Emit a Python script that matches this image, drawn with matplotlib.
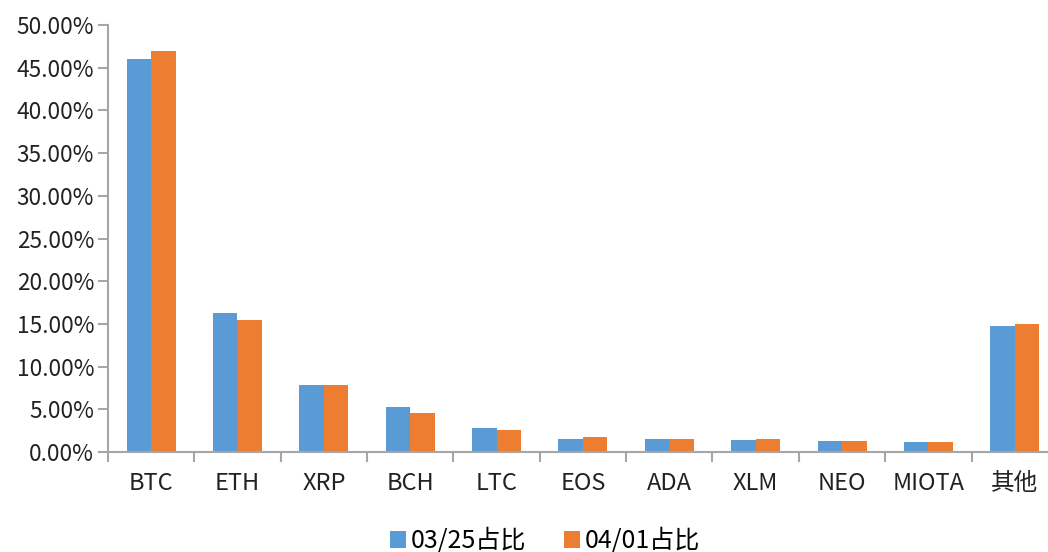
import matplotlib
matplotlib.use('Agg')
import matplotlib.pyplot as plt
import numpy as np
from matplotlib.ticker import FuncFormatter

plt.rcParams['font.family'] = ['Noto Sans CJK SC', 'DejaVu Sans']

coins = ['BTC', 'ETH', 'XRP', 'BCH', 'LTC', 'EOS', 'ADA', 'XLM', 'NEO', 'MIOTA', '其他']
share_0325 = [46.0, 16.24, 7.85, 5.23, 2.77, 1.52, 1.48, 1.37, 1.29, 1.13, 14.75]
share_0401 = [47.0, 15.42, 7.85, 4.57, 2.54, 1.76, 1.56, 1.48, 1.25, 1.17, 14.95]
series_labels = ['03/25占比', '04/01占比']

fig = plt.figure(figsize=(10.48, 5.52), dpi=100)
ax = fig.add_axes([0.103, 0.181, 0.9065, 0.7737])

x = np.arange(len(coins))
w = 0.284
ax.bar(x - w / 2, share_0325, w, color='#5B9BD5', label=series_labels[0])
ax.bar(x + w / 2, share_0401, w, color='#ED7D31', label=series_labels[1])

ax.set_xlim(-0.5, len(coins) - 0.5)
ax.set_ylim(0, 50)
ax.set_yticks(np.arange(0, 51, 5))
ax.yaxis.set_major_formatter(FuncFormatter(lambda v, p: f'{v:.2f}%'))

# category labels centered, tick marks between categories
ax.set_xticks(x)
ax.set_xticklabels(coins)
ax.set_xticks(np.arange(-0.5, len(coins), 1), minor=True)
ax.tick_params(axis='x', which='major', length=0, pad=14, labelsize=17, colors='#222222')
ax.tick_params(axis='x', which='minor', length=7, width=1.5, color='#a6a6a6')
ax.tick_params(axis='y', length=7, width=1.5, color='#a6a6a6', labelsize=16.3,
               labelcolor='#222222', pad=3)

for s in ['top', 'right']:
    ax.spines[s].set_visible(False)
for s in ['left', 'bottom']:
    ax.spines[s].set_color('#a6a6a6')
    ax.spines[s].set_linewidth(1.5)

h, l = ax.get_legend_handles_labels()
fig.legend(h, l, loc='center', bbox_to_anchor=(0.52, 0.02),
           ncol=2, frameon=False, fontsize=18, handlelength=0.65, handleheight=0.65,
           handletextpad=0.2, columnspacing=1.5, prop={'size': 18})

fig.savefig('out.png', dpi=100)
